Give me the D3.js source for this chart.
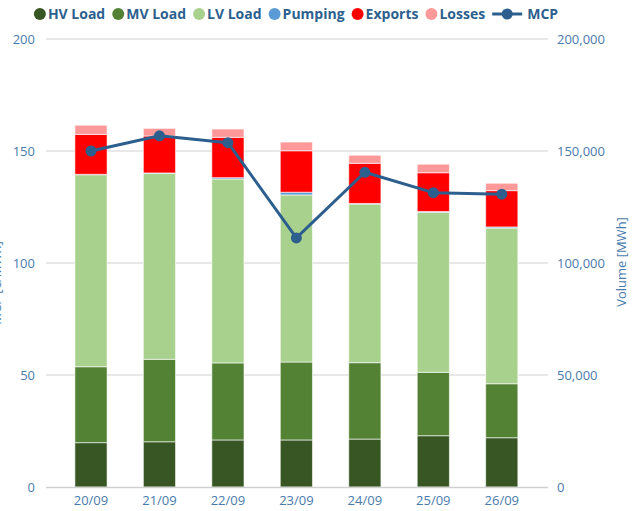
<!DOCTYPE html>
<html><head><meta charset="utf-8">
<script src="https://cdn.jsdelivr.net/npm/d3@7"></script>
<style>body{margin:0;background:#fff}svg{display:block;font-family:"Open Sans",sans-serif}</style>
</head><body><svg id="c" width="633" height="511"></svg>
<script>
const categories = ["20/09","21/09","22/09","23/09","24/09","25/09","26/09"];
const hvLoad   = [19800, 20200, 21000, 21000, 21400, 22900, 22000];
const mvLoad   = [33900, 36800, 34400, 34800, 34100, 28300, 24100];
const lvLoad   = [85700, 83000, 82100, 74600, 70800, 71400, 69500];
const pumping  = [200, 200, 600, 1200, 300, 400, 500];
const exportsV = [17800, 16500, 18000, 18500, 17900, 17300, 16200];
const losses   = [4100, 3400, 3700, 3900, 3600, 3800, 3300];
const mcp      = [150.0, 156.8, 153.7, 111.2, 140.5, 131.4, 130.7];
const leftTicks = [0, 50, 100, 150, 200];
const rightTicks = [0, 50000, 100000, 150000, 200000];

const seriesNames = ["HV Load","MV Load","LV Load","Pumping","Exports","Losses"];
const seriesData = [hvLoad, mvLoad, lvLoad, pumping, exportsV, losses];
const colors = ["#375623","#548235","#a9d18e","#5b9bd5","#ff0000","#ff9999"];
const lineColor = "#2d5f8e";
const labelColor = "#4a7bad";

(function(){
const svg = d3.select("#c");
const plotL = 46, plotR = 548, plotTop = 39, plotBottom = 487;

const x = d3.scaleBand().domain(categories).range([56.75, 536]).paddingInner(0.53).paddingOuter(0.265);
const yL = d3.scaleLinear().domain([0, 200]).range([plotBottom, plotTop]);
const yR = d3.scaleLinear().domain([0, 200000]).range([plotBottom, plotTop]);

svg.append("g").selectAll("line").data(leftTicks.slice(1)).join("line")
  .attr("x1", plotL).attr("x2", plotR)
  .attr("y1", d => yL(d)).attr("y2", d => yL(d))
  .attr("stroke", "#e0e0e0").attr("stroke-width", 1.5);

const axL = svg.append("g").attr("transform", `translate(${plotL},0)`)
  .call(d3.axisLeft(yL).tickValues(leftTicks).tickSize(0).tickPadding(11));
axL.select(".domain").remove();
axL.selectAll("text").attr("fill", labelColor).style("font-size", "13px").style("font-family", "Open Sans");

const axR = svg.append("g").attr("transform", `translate(${plotR},0)`)
  .call(d3.axisRight(yR).tickValues(rightTicks).tickSize(0).tickPadding(9).tickFormat(d3.format(",")));
axR.select(".domain").remove();
axR.selectAll("text").attr("fill", labelColor).style("font-size", "13px").style("font-family", "Open Sans");

const rows = categories.map((c, i) => {
  const o = {cat: c};
  seriesNames.forEach((n, j) => o[n] = seriesData[j][i]);
  return o;
});
const stack = d3.stack().keys(seriesNames)(rows);
svg.append("g").selectAll("g").data(stack).join("g")
  .attr("fill", (d, i) => colors[i])
  .selectAll("rect").data(d => d).join("rect")
  .attr("x", d => x(d.data.cat))
  .attr("width", x.bandwidth())
  .attr("y", d => yR(d[1]))
  .attr("height", d => Math.max(0, yR(d[0]) - yR(d[1])))
  .attr("stroke", "rgba(255,255,255,0.6)").attr("stroke-width", 1);

svg.append("line").attr("x1", plotL).attr("x2", plotR).attr("y1", plotBottom + 0.5).attr("y2", plotBottom + 0.5)
  .attr("stroke", "#d0d0d0").attr("stroke-width", 1.5);

const axX = svg.append("g").attr("transform", `translate(0,${plotBottom})`)
  .call(d3.axisBottom(x).tickSize(0).tickPadding(9));
axX.select(".domain").remove();
axX.selectAll("text").attr("fill", labelColor).style("font-size", "13px").style("font-family", "Open Sans");

const cx = c => x(c) + x.bandwidth() / 2;
svg.append("path").datum(mcp)
  .attr("d", d3.line().x((d, i) => cx(categories[i])).y(d => yL(d)))
  .attr("fill", "none").attr("stroke", lineColor).attr("stroke-width", 3).attr("stroke-linejoin", "round");
svg.append("g").selectAll("circle").data(mcp).join("circle")
  .attr("cx", (d, i) => cx(categories[i])).attr("cy", d => yL(d)).attr("r", 5.5).attr("fill", lineColor);

svg.append("text").attr("transform", `translate(1,${(plotTop + plotBottom) / 2 + 20}) rotate(-90)`)
  .attr("text-anchor", "middle").attr("fill", labelColor).style("font-size", "13px")
  .text("MCP [€/MWh]");
svg.append("text").attr("transform", `translate(626,262) rotate(-90)`)
  .attr("text-anchor", "middle").attr("fill", labelColor).style("font-size", "13px")
  .text("Volume [MWh]");

const leg = svg.append("g");
let lx = 0;
const items = seriesNames.map((n, i) => ({name: n, color: colors[i], type: "dot"}));
items.push({name: "MCP", color: lineColor, type: "line"});
items.forEach(it => {
  const g = leg.append("g").attr("transform", `translate(${lx},0)`);
  let tx;
  if (it.type === "dot") {
    g.append("circle").attr("cx", 6).attr("cy", 0).attr("r", 6).attr("fill", it.color);
    tx = 14;
  } else {
    g.append("line").attr("x1", 0).attr("x2", 30).attr("y1", 0).attr("y2", 0)
      .attr("stroke", it.color).attr("stroke-width", 3);
    g.append("circle").attr("cx", 15).attr("cy", 0).attr("r", 5.5).attr("fill", it.color);
    tx = 35;
  }
  const t = g.append("text").attr("x", tx).attr("y", 5).attr("fill", "#2d5f8e")
    .style("font-size", "14px").style("font-weight", "700").text(it.name);
  lx += tx + t.node().getComputedTextLength() + 7;
});
const legW = lx - 7;
leg.attr("transform", `translate(${296 - legW / 2},14)`);
})();
</script></body></html>
